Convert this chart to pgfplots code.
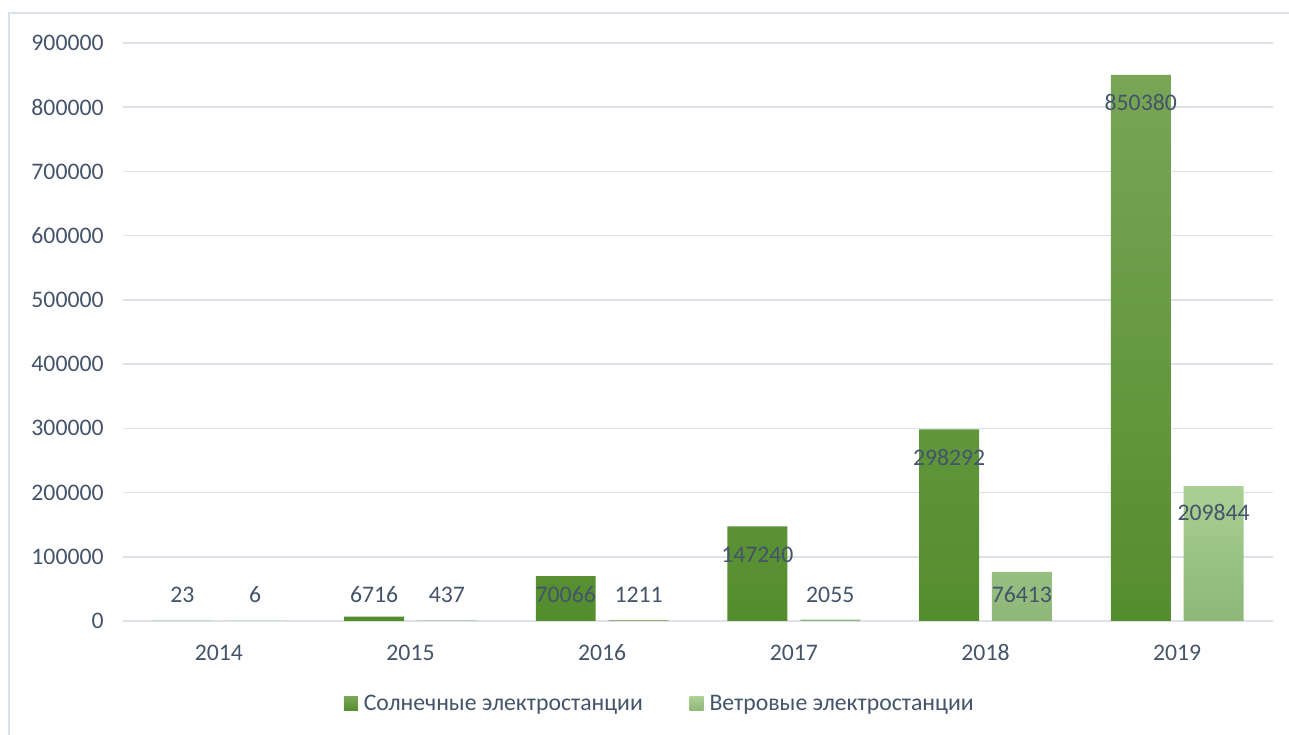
\documentclass[border=0pt]{standalone}
\usepackage{fontspec}
\setmainfont{Carlito}
\usepackage{pgfplots}
\pgfplotsset{compat=1.18}
\usepackage{pgfplotstable}
\definecolor{txt}{HTML}{44546A}
\definecolor{gridc}{HTML}{DDE1E8}
\definecolor{framec}{HTML}{DDE1E8}
\definecolor{solT}{HTML}{78A656}
\definecolor{solB}{HTML}{548D2E}
\definecolor{winT}{HTML}{ABD095}
\definecolor{winB}{HTML}{8DB677}

% x = category index, v = value, ly = label position
\pgfplotstableread{
x v ly
0 23 40000
1 6716 40000
2 70066 40000
3 147240 103000
4 298292 254000
5 850380 806000
}\solar
\pgfplotstableread{
x v ly
0 6 40000
1 437 40000
2 1211 40000
3 2055 40000
4 76413 40000
5 209844 168000
}\wind

\newcommand\chartfont{\fontsize{17.8}{21}\selectfont}

\begin{document}
\begin{tikzpicture}
\useasboundingbox (-92.25pt,-85.5pt) rectangle (874.5pt,465.75pt);
\draw[framec, line width=1.3pt] (-85.5pt,456pt) rectangle (900pt,-110pt);
\begin{axis}[
  at={(0pt,0pt)}, anchor=south west,
  scale only axis, width=862.5pt, height=433.5pt,
  xmin=-0.5, xmax=5.5, ymin=0, ymax=900000,
  xtick={0,...,5}, xticklabels={2014,2015,2016,2017,2018,2019},
  ytick={0,100000,...,900000},
  scaled y ticks=false,
  /pgf/number format/.cd, fixed, 1000 sep={}, assume math mode=true, /pgfplots/.cd,
  ymajorgrids, grid style={gridc, line width=1.1pt},
  axis line style={draw=none},
  major tick length=0pt,
  tick label style={font=\chartfont, text=txt},
  yticklabel style={xshift=-11pt},
  xticklabel style={anchor=base, yshift=-29.5pt},
  legend style={draw=none, fill=none, font=\chartfont, text=txt,
    at={(0.467,-0.1436)}, anchor=center, legend columns=2,
    /tikz/every odd column/.append style={column sep=2.5pt},
    /tikz/every even column/.append style={column sep=33pt}},
  legend image code/.code={\path[#1] (0pt,-5.25pt) rectangle (10.5pt,5.25pt);},
]
\addplot[ybar, bar width=0.313, bar shift=-0.19, draw=none, top color=solT, bottom color=solB]
  table[x=x, y=v] {\solar};
\addlegendentry{Солнечные электростанции}
\addplot[ybar, bar width=0.313, bar shift=0.19, draw=none, top color=winT, bottom color=winB]
  table[x=x, y=v] {\wind};
\addlegendentry{Ветровые электростанции}

\addplot[draw=none, mark=none, forget plot, nodes near coords, point meta=explicit symbolic,
  every node near coord/.append style={anchor=base, yshift=-5.6pt, font=\chartfont, text=txt}]
  table[x expr=\thisrow{x}-0.19, y=ly, meta=v] {\solar};
\addplot[draw=none, mark=none, forget plot, nodes near coords, point meta=explicit symbolic,
  every node near coord/.append style={anchor=base, yshift=-5.6pt, font=\chartfont, text=txt}]
  table[x expr=\thisrow{x}+0.19, y=ly, meta=v] {\wind};
\end{axis}
\end{tikzpicture}
\end{document}
